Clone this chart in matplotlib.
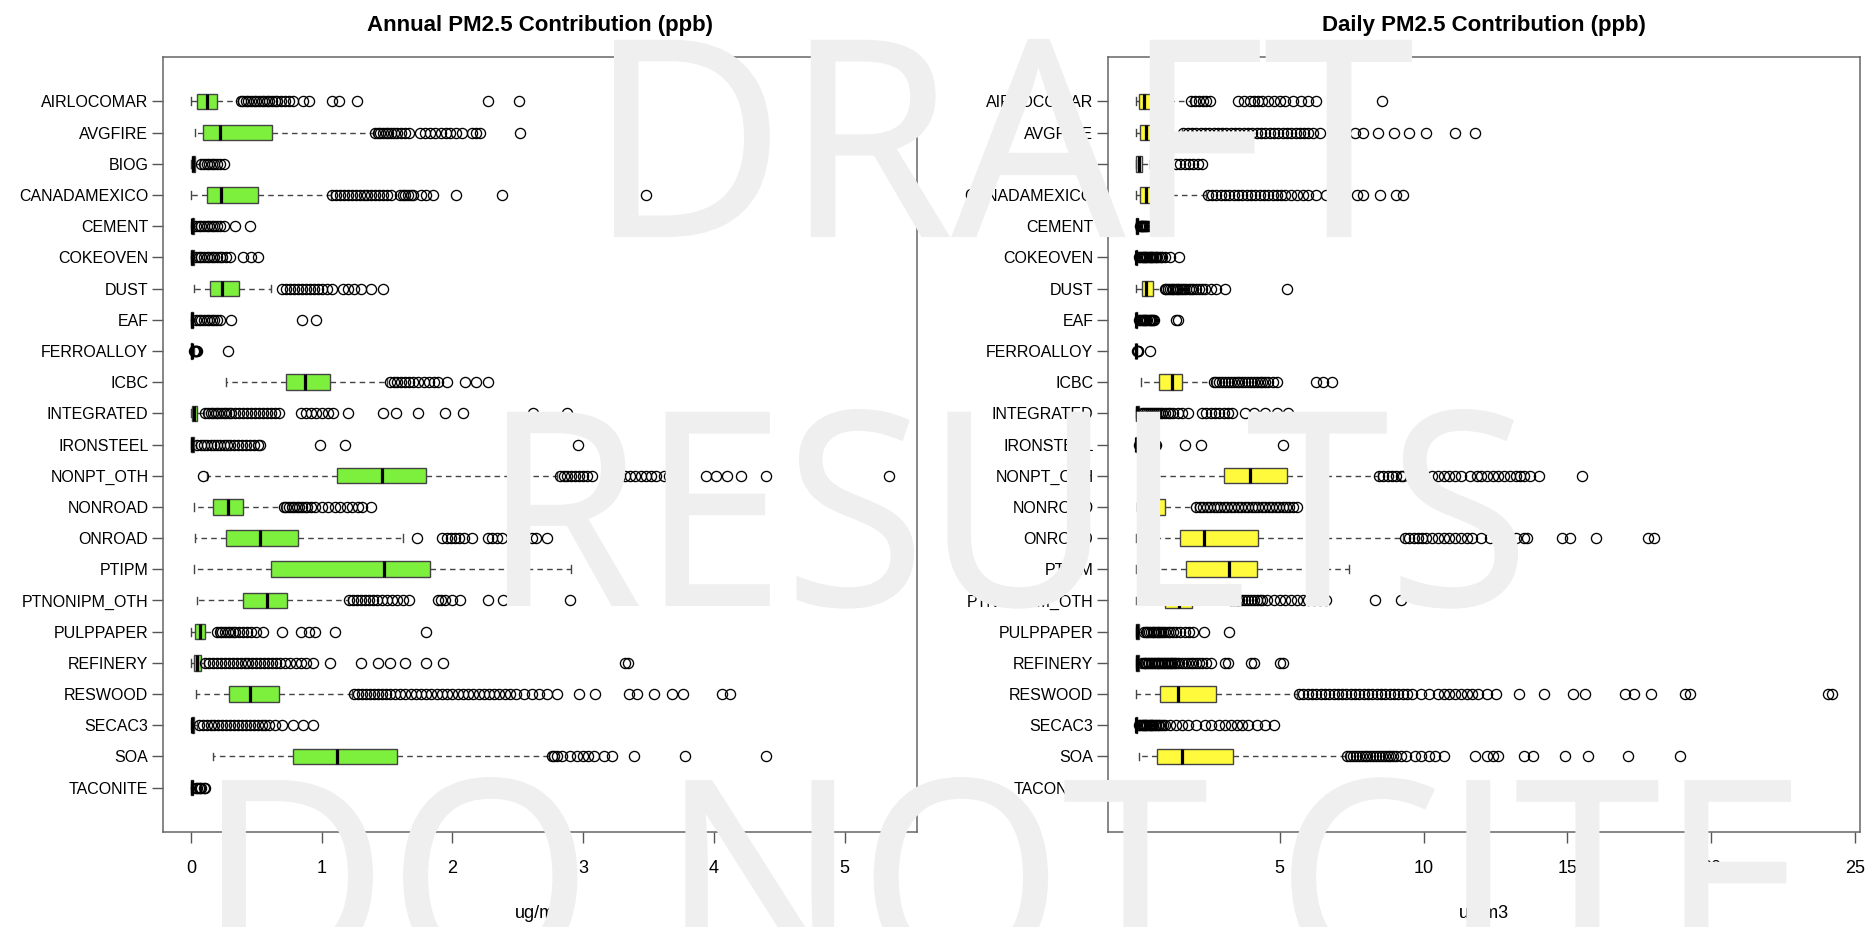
import matplotlib
matplotlib.use("Agg")
import matplotlib.pyplot as plt
from matplotlib.textpath import TextPath
from matplotlib.font_manager import FontProperties
from matplotlib.patches import PathPatch
from matplotlib.transforms import Affine2D, IdentityTransform

plt.rcParams['font.family'] = ['Liberation Sans', 'DejaVu Sans']

categories = ["AIRLOCOMAR", "AVGFIRE", "BIOG", "CANADAMEXICO", "CEMENT", "COKEOVEN",
              "DUST", "EAF", "FERROALLOY", "ICBC", "INTEGRATED", "IRONSTEEL",
              "NONPT_OTH", "NONROAD", "ONROAD", "PTIPM", "PTNONIPM_OTH", "PULPPAPER",
              "REFINERY", "RESWOOD", "SECAC3", "SOA", "TACONITE"]

# annual box statistics (ug/m3)
ann_lo = [0.0, 0.03, 0.0, 0.0, 0.0, 0.0, 0.02, 0.0, 0.0, 0.27, 0.0, 0.0,
          0.12, 0.02, 0.03, 0.02, 0.05, 0.0, 0.0, 0.04, 0.0, 0.17, 0.0]
ann_q1 = [0.05, 0.09, 0.005, 0.125, 0.005, 0.004, 0.145, 0.003, 0.002, 0.73, 0.01, 0.003,
          1.12, 0.17, 0.27, 0.61, 0.40, 0.03, 0.025, 0.29, 0.005, 0.78, 0.003]
ann_med = [0.12, 0.22, 0.015, 0.23, 0.01, 0.01, 0.235, 0.008, 0.005, 0.87, 0.02, 0.008,
           1.46, 0.285, 0.53, 1.475, 0.585, 0.07, 0.05, 0.45, 0.01, 1.12, 0.008]
ann_q3 = [0.20, 0.62, 0.03, 0.51, 0.02, 0.02, 0.37, 0.015, 0.01, 1.06, 0.05, 0.02,
          1.80, 0.40, 0.82, 1.83, 0.735, 0.105, 0.075, 0.675, 0.025, 1.575, 0.015]
ann_hi = [0.36, 1.40, 0.07, 1.07, 0.04, 0.035, 0.61, 0.03, 0.02, 1.50, 0.10, 0.04,
          2.80, 0.70, 1.62, 2.91, 1.20, 0.19, 0.10, 1.23, 0.05, 2.74, 0.03]
ann_fliers = [
    [0.38, 0.40, 0.42, 0.44, 0.46, 0.48, 0.50, 0.52, 0.54, 0.56, 0.58, 0.60, 0.62, 0.64,
     0.66, 0.69, 0.72, 0.75, 0.78, 0.86, 0.90, 1.08, 1.13, 1.27, 2.27, 2.51],
    [1.41, 1.43, 1.45, 1.47, 1.49, 1.51, 1.53, 1.55, 1.58, 1.61, 1.64, 1.67, 1.75, 1.79,
     1.83, 1.87, 1.91, 1.95, 1.98, 2.03, 2.07, 2.15, 2.18, 2.21, 2.52],
    [0.08, 0.10, 0.12, 0.14, 0.16, 0.18, 0.20, 0.22, 0.25],
    [1.08, 1.11, 1.14, 1.17, 1.20, 1.23, 1.26, 1.29, 1.32, 1.35, 1.38, 1.41, 1.44, 1.47,
     1.50, 1.53, 1.60, 1.62, 1.64, 1.66, 1.68, 1.70, 1.76, 1.80, 1.85, 2.03, 2.38, 3.48],
    [0.04, 0.06, 0.08, 0.10, 0.12, 0.14, 0.16, 0.18, 0.20, 0.22, 0.25, 0.34, 0.45],
    [0.04, 0.06, 0.08, 0.10, 0.12, 0.14, 0.16, 0.18, 0.20, 0.22, 0.24, 0.27, 0.30, 0.40,
     0.46, 0.51],
    [0.70, 0.73, 0.76, 0.79, 0.82, 0.85, 0.88, 0.91, 0.94, 0.97, 1.00, 1.04, 1.08, 1.16,
     1.20, 1.25, 1.30, 1.38, 1.47],
    [0.04, 0.06, 0.08, 0.10, 0.12, 0.14, 0.16, 0.18, 0.20, 0.22, 0.31, 0.85, 0.96],
    [0.025, 0.03, 0.035, 0.04, 0.05, 0.28],
    [1.52, 1.55, 1.58, 1.61, 1.64, 1.67, 1.70, 1.74, 1.78, 1.82, 1.86, 1.89, 1.96, 2.10,
     2.18, 2.27],
    [0.11, 0.13, 0.15, 0.17, 0.19, 0.21, 0.23, 0.25, 0.27, 0.29, 0.31, 0.34, 0.37, 0.40,
     0.43, 0.46, 0.49, 0.52, 0.55, 0.58, 0.61, 0.64, 0.67, 0.84, 0.88, 0.92, 0.96, 1.00,
     1.05, 1.09, 1.20, 1.47, 1.57, 1.74, 1.94, 2.08, 2.62, 2.88],
    [0.05, 0.075, 0.10, 0.125, 0.15, 0.175, 0.20, 0.225, 0.25, 0.275, 0.30, 0.33, 0.36,
     0.39, 0.42, 0.45, 0.48, 0.51, 0.53, 0.99, 1.18, 2.96],
    [0.09, 2.82, 2.85, 2.88, 2.91, 2.94, 2.97, 3.00, 3.03, 3.07, 3.28, 3.32, 3.36, 3.40,
     3.44, 3.48, 3.52, 3.56, 3.62, 3.66, 3.94, 4.02, 4.10, 4.21, 4.40, 5.34],
    [0.71, 0.73, 0.75, 0.77, 0.79, 0.81, 0.83, 0.85, 0.87, 0.89, 0.92, 0.95, 1.00, 1.05,
     1.10, 1.14, 1.19, 1.23, 1.28, 1.31, 1.38],
    [1.73, 1.92, 1.96, 1.99, 2.02, 2.05, 2.09, 2.15, 2.27, 2.30, 2.34, 2.38, 2.61, 2.64, 2.72],
    [],
    [1.21, 1.24, 1.27, 1.30, 1.33, 1.36, 1.39, 1.42, 1.46, 1.50, 1.54, 1.58, 1.62, 1.67,
     1.89, 1.91, 1.94, 2.00, 2.06, 2.27, 2.39, 2.90],
    [0.20, 0.22, 0.24, 0.26, 0.28, 0.30, 0.32, 0.34, 0.37, 0.40, 0.43, 0.46, 0.50, 0.55,
     0.70, 0.84, 0.90, 0.95, 1.10, 1.80],
    [0.11, 0.14, 0.17, 0.20, 0.23, 0.26, 0.29, 0.32, 0.35, 0.38, 0.41, 0.44, 0.47, 0.50,
     0.53, 0.56, 0.59, 0.62, 0.65, 0.68, 0.72, 0.76, 0.80, 0.84, 0.88, 0.93, 1.06, 1.30,
     1.43, 1.52, 1.64, 1.80, 1.93, 3.32, 3.34],
    [1.25, 1.28, 1.31, 1.34, 1.37, 1.40, 1.43, 1.46, 1.49, 1.52, 1.56, 1.60, 1.64, 1.68,
     1.72, 1.76, 1.80, 1.84, 1.88, 1.92, 1.96, 2.00, 2.04, 2.08, 2.12, 2.16, 2.20, 2.24,
     2.28, 2.32, 2.36, 2.40, 2.44, 2.49, 2.55, 2.61, 2.66, 2.72, 2.80, 2.97, 3.09, 3.35,
     3.41, 3.54, 3.68, 3.76, 4.06, 4.12],
    [0.06, 0.09, 0.12, 0.15, 0.18, 0.21, 0.24, 0.27, 0.30, 0.33, 0.36, 0.39, 0.42, 0.45,
     0.48, 0.51, 0.54, 0.57, 0.60, 0.64, 0.70, 0.78, 0.86, 0.93],
    [2.76, 2.78, 2.80, 2.84, 2.90, 2.95, 3.00, 3.04, 3.08, 3.16, 3.22, 3.39, 3.78, 4.40],
    [0.04, 0.05, 0.06, 0.07, 0.08, 0.10, 0.11],
]

# daily box statistics (ug/m3)
day_lo = [0.0, 0.0, 0.0, 0.0, 0.0, 0.0, 0.0, 0.0, 0.0, 0.19, 0.0, 0.0,
          0.10, 0.04, 0.0, 0.0, 0.0, 0.0, 0.0, 0.0, 0.0, 0.10, 0.0]
day_q1 = [0.10, 0.15, 0.02, 0.15, 0.01, 0.01, 0.21, 0.0, 0.0, 0.79, 0.0, 0.0,
          3.06, 0.40, 1.55, 1.74, 1.03, 0.0, 0.0, 0.83, 0.0, 0.72, 0.0]
day_med = [0.30, 0.35, 0.10, 0.35, 0.03, 0.02, 0.37, 0.02, 0.01, 1.26, 0.03, 0.02,
           3.97, 0.55, 2.38, 3.23, 1.50, 0.05, 0.04, 1.47, 0.02, 1.60, 0.01]
day_q3 = [0.80, 0.75, 0.22, 0.90, 0.06, 0.05, 0.60, 0.05, 0.02, 1.60, 0.10, 0.05,
          5.24, 1.00, 4.26, 4.22, 1.95, 0.12, 0.10, 2.77, 0.05, 3.38, 0.02]
day_hi = [1.90, 1.60, 0.50, 2.45, 0.12, 0.10, 0.95, 0.10, 0.04, 2.65, 0.20, 0.10,
          8.40, 2.05, 9.30, 7.41, 3.25, 0.25, 0.20, 5.60, 0.10, 7.30, 0.04]
day_fliers = [
    [1.92, 2.05, 2.20, 2.35, 2.45, 2.57, 3.55, 3.75, 3.95, 4.10, 4.25, 4.40, 4.60, 4.80,
     5.00, 5.20, 5.45, 5.75, 6.00, 6.25, 8.57],
    [1.65, 1.8, 1.95, 2.1, 2.25, 2.4, 2.55, 2.7, 2.85, 3.0, 3.15, 3.3, 3.45, 3.6, 3.75,
     3.9, 4.05, 4.2, 4.35, 4.5, 4.65, 4.8, 4.95, 5.1, 5.25, 5.4, 5.55, 5.7, 5.85, 6.0,
     6.15, 6.4, 7.6, 7.9, 8.4, 8.96, 9.5, 10.1, 11.1, 11.8],
    [1.40, 1.55, 1.70, 1.85, 2.00, 2.15, 2.30],
    [2.5, 2.65, 2.8, 2.95, 3.1, 3.25, 3.4, 3.55, 3.7, 3.85, 4.0, 4.15, 4.3, 4.45, 4.6,
     4.75, 4.9, 5.05, 5.2, 5.4, 5.6, 5.8, 6.0, 6.25, 6.6, 7.7, 7.9, 8.5, 9.05, 9.3],
    [0.14, 0.17, 0.20, 0.23, 0.26, 0.29, 0.32, 0.36, 0.40, 0.45],
    [0.12, 0.16, 0.20, 0.24, 0.28, 0.32, 0.36, 0.40, 0.44, 0.48, 0.52, 0.56, 0.60, 0.65,
     0.70, 0.75, 0.80, 0.86, 0.92, 1.0, 1.2, 1.5],
    [1.00, 1.06, 1.12, 1.18, 1.24, 1.30, 1.36, 1.42, 1.48, 1.54, 1.60, 1.68, 1.76, 1.84,
     1.92, 2.00, 2.10, 2.20, 2.30, 2.40, 2.60, 2.80, 3.10, 5.24],
    [0.12, 0.16, 0.20, 0.24, 0.28, 0.32, 0.36, 0.40, 0.44, 0.48, 0.52, 0.56, 0.60, 0.64,
     1.38, 1.45],
    [0.05, 0.07, 0.09, 0.50],
    [2.7, 2.8, 2.9, 3.0, 3.1, 3.2, 3.3, 3.4, 3.5, 3.6, 3.7, 3.8, 3.9, 4.0, 4.1, 4.2, 4.3,
     4.4, 4.5, 4.6, 4.75, 4.9, 6.25, 6.5, 6.8],
    [0.22, 0.29, 0.36, 0.43, 0.50, 0.57, 0.64, 0.71, 0.78, 0.85, 0.92, 1.0, 1.1, 1.2, 1.3,
     1.45, 1.6, 1.8, 2.3, 2.45, 2.6, 2.75, 2.9, 3.05, 3.2, 3.35, 3.8, 4.1, 4.5, 4.9, 5.3],
    [0.12, 0.15, 0.18, 0.21, 0.24, 0.27, 0.30, 0.33, 0.36, 0.39, 0.42, 0.46, 0.50, 0.55,
     0.60, 0.65, 0.70, 1.70, 2.28, 5.10],
    [8.45, 8.6, 8.75, 8.9, 9.05, 9.2, 9.3, 10.3, 10.5, 10.7, 10.9, 11.1, 11.3, 11.6, 11.85,
     12.0, 12.2, 12.4, 12.6, 12.8, 13.0, 13.2, 13.35, 13.5, 13.7, 14.0, 15.5],
    [2.1, 2.22, 2.34, 2.46, 2.58, 2.7, 2.82, 2.94, 3.06, 3.18, 3.3, 3.42, 3.54, 3.66, 3.78,
     3.9, 4.02, 4.14, 4.26, 4.38, 4.5, 4.62, 4.74, 4.86, 4.98, 5.1, 5.22, 5.34, 5.46, 5.6],
    [9.35, 9.5, 9.65, 9.8, 9.95, 10.1, 10.3, 10.5, 10.7, 10.9, 11.1, 11.3, 11.5, 11.7,
     12.0, 12.3, 12.6, 12.9, 13.2, 13.5, 13.6, 14.8, 15.1, 16.0, 17.8, 18.0],
    [],
    [3.3, 3.4, 3.5, 3.6, 3.7, 3.8, 3.9, 4.0, 4.1, 4.2, 4.3, 4.4, 4.55, 4.8, 5.0, 5.2, 5.4,
     5.6, 5.8, 6.0, 6.2, 6.4, 6.6, 8.3, 9.2],
    [0.28, 0.34, 0.40, 0.46, 0.52, 0.58, 0.64, 0.70, 0.76, 0.82, 0.88, 0.94, 1.0, 1.1, 1.2,
     1.3, 1.4, 1.55, 1.7, 1.85, 2.0, 2.38, 3.25],
    [0.22, 0.27, 0.32, 0.37, 0.42, 0.47, 0.52, 0.57, 0.62, 0.67, 0.72, 0.77, 0.82, 0.87,
     0.92, 0.97, 1.02, 1.07, 1.12, 1.17, 1.22, 1.27, 1.32, 1.37, 1.42, 1.5, 1.6, 1.7, 1.8,
     1.9, 2.0, 2.1, 2.2, 2.3, 2.45, 2.6, 3.1, 3.2, 4.0, 4.1, 5.0, 5.1],
    [5.67, 5.82, 5.97, 6.12, 6.27, 6.42, 6.57, 6.72, 6.87, 7.02, 7.17, 7.32, 7.47, 7.62,
     7.77, 7.92, 8.07, 8.22, 8.37, 8.52, 8.67, 8.82, 8.97, 9.12, 9.27, 9.42, 9.6, 9.9, 10.2,
     10.5, 10.7, 10.9, 11.1, 11.3, 11.5, 11.7, 11.9, 12.2, 12.5, 13.3, 14.2, 15.2, 15.6,
     17.0, 17.3, 17.9, 19.1, 19.25, 24.05, 24.2],
    [0.12, 0.16, 0.20, 0.24, 0.28, 0.32, 0.36, 0.40, 0.44, 0.48, 0.52, 0.56, 0.60, 0.65,
     0.70, 0.76, 0.82, 0.88, 0.94, 1.0, 1.2, 1.4, 1.6, 1.8, 2.1, 2.4, 2.6, 2.9, 3.1, 3.3,
     3.5, 3.7, 3.9, 4.2, 4.5, 4.8],
    [7.35, 7.45, 7.55, 7.65, 7.75, 7.85, 7.95, 8.05, 8.15, 8.25, 8.35, 8.45, 8.55, 8.65,
     8.75, 8.85, 8.95, 9.05, 9.2, 9.4, 9.7, 9.9, 10.2, 10.4, 10.7, 11.8, 12.2, 12.4, 12.6,
     13.5, 13.8, 14.9, 15.7, 17.1, 18.9],
    [0.05, 0.08, 0.10],
]

ann_ticks = [0, 1, 2, 3, 4, 5]
day_ticks = [0, 5, 10, 15, 20, 25]

W, H = 1872, 927
fig = plt.figure(figsize=(W / 100, H / 100), dpi=100)
ax1 = fig.add_axes([163 / W, 1 - 832 / H, (917 - 163) / W, (832 - 57) / H])
ax2 = fig.add_axes([1108 / W, 1 - 832 / H, (1860 - 1108) / W, (832 - 57) / H])


def draw_panel(ax, lo, q1, med, q3, hi, fliers, color, ticks):
    stats = []
    for a, b, c, d, e, f in zip(lo, q1, med, q3, hi, fliers):
        stats.append(dict(whislo=a, q1=b, med=c, q3=d, whishi=e, fliers=f))
    pos = list(range(1, len(stats) + 1))
    ax.bxp(stats, positions=pos, orientation='horizontal', widths=0.5, capwidths=0.25,
           patch_artist=True,
           boxprops=dict(facecolor=color, edgecolor='#444444', linewidth=1.0),
           medianprops=dict(color='black', linewidth=2.3, solid_capstyle='butt'),
           whiskerprops=dict(color='#444444', linewidth=1.0, linestyle=(0, (4, 3))),
           capprops=dict(color='#444444', linewidth=1.0),
           flierprops=dict(marker='o', markerfacecolor='none', markeredgecolor='black',
                           markersize=7.3, markeredgewidth=0.95))
    vals = lo + hi + [v for f in fliers for v in f]
    vmin, vmax = min(vals), max(vals)
    pad = 0.04 * (vmax - vmin)
    ax.set_xlim(vmin - pad, vmax + pad)
    n = len(stats)
    ax.set_ylim(n + 0.5 + 0.04 * n, 0.5 - 0.04 * n)
    ax.set_yticks(pos, categories)
    ax.set_xticks(ticks, [str(t) for t in ticks])
    ax.tick_params(axis='y', labelsize=11.5, length=8, width=1.0, color='#555555', pad=2.5)
    ax.tick_params(axis='x', labelsize=13, length=8, width=1.0, color='#555555', pad=12)
    for s in ax.spines.values():
        s.set_color('#666666')
        s.set_linewidth(1.1)


draw_panel(ax1, ann_lo, ann_q1, ann_med, ann_q3, ann_hi, ann_fliers, '#7cf03c', ann_ticks)
draw_panel(ax2, day_lo, day_q1, day_med, day_q3, day_hi, day_fliers, '#fffa3c', day_ticks)

for ax, title in [(ax1, "Annual PM2.5 Contribution (ppb)"),
                  (ax2, "Daily PM2.5 Contribution (ppb)")]:
    bb = ax.get_position()
    xc = (bb.x0 + bb.x1) / 2
    fig.text(xc, 1 - 25 / H, title, ha='center', va='center', fontsize=16,
             fontweight='bold')
    fig.text(xc, 1 - 913 / H, "ug/m3", ha='center', va='center', fontsize=13)


# watermark in pixel coordinates: ink spans left..right, cap top..baseline
def add_mark(text, left, right, top, baseline):
    tp = TextPath((0, 0), text, size=273, prop=FontProperties(family='Open Sans'))
    ext = tp.get_extents()
    sx = (right - left) / ext.width
    sy = (baseline - top) / ext.y1
    tr = (Affine2D().translate(-ext.x0, 0).scale(sx, sy)
          .translate(left, H - baseline))
    patch = PathPatch(tr.transform_path(tp), facecolor='#efefef', edgecolor='#efefef',
                      linewidth=1.5, transform=IdentityTransform(), zorder=10)
    fig.add_artist(patch)


add_mark("DRAFT", 615, 1411, 40, 236)
add_mark("RESULTS", 508, 1517, 410, 605)
add_mark("DO NOT CITE", 223, 1790, 778, 973)

fig.savefig("out.png", dpi=100)
